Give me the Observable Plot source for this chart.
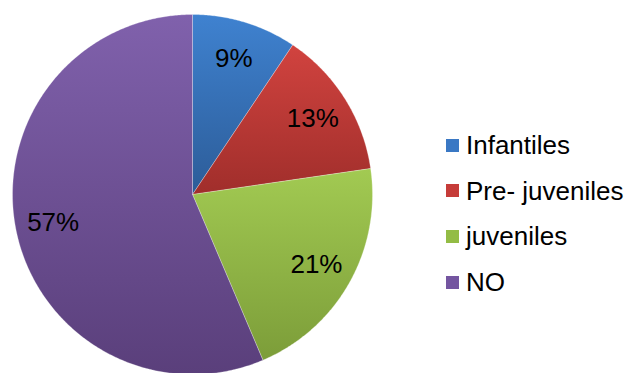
<!DOCTYPE html>
<html>
<head>
<meta charset="utf-8">
<script src="https://cdn.jsdelivr.net/npm/d3@7"></script>
<script src="https://cdn.jsdelivr.net/npm/@observablehq/plot@0.6"></script>
<style>
  html, body { margin: 0; padding: 0; background: #ffffff; }
  #wrap { position: relative; width: 631px; height: 373px; overflow: hidden; font-family: "Liberation Sans", Arial, sans-serif; }
  #legend { position: absolute; left: 0; top: 0; }
  .row { position: absolute; display: flex; align-items: center; height: 30px; line-height: 30px; font-size: 26px; color: #000; white-space: nowrap; }
  .sw { width: 13px; height: 13px; margin-right: 7px; }
</style>
</head>
<body>
<div id="wrap"><div id="legend"></div></div>
<script>
// Data
const categories = ["Infantiles", "Pre- juveniles", "juveniles", "NO"];
const values = [9.4, 13.3, 20.9, 56.4];
const labels = ["9%", "13%", "21%", "57%"];

// Styles
const topColors = ["#3F82D0", "#D1433F", "#A2CA52", "#8061AC"];
const bottomColors = ["#2C5C98", "#A02E2B", "#7C9D39", "#5A3F7B"];
const legendColors = ["#3A78C4", "#C63C39", "#93BC45", "#7455A0"];

const pie = d3.pie().sort(null).value(d => d)(values);

const slices = pie.map((p, i) => {
  const pts = [{x: 0, y: 0}];
  const n = Math.max(2, Math.ceil((p.endAngle - p.startAngle) / (Math.PI / 360)));
  for (let k = 0; k <= n; k++) {
    const a = p.startAngle + (p.endAngle - p.startAngle) * k / n;
    pts.push({x: Math.sin(a), y: Math.cos(a)});
  }
  pts.push({x: 0, y: 0});
  return pts;
});

const labelData = pie.map((p, i) => {
  const a = (p.startAngle + p.endAngle) / 2;
  return {x: 0.79 * Math.sin(a), y: 0.79 * Math.cos(a), label: labels[i]};
});

const plot = Plot.plot({
  width: 631,
  height: 373,
  margin: 0,
  x: {domain: [-1, 1], range: [12, 372], axis: null},
  y: {domain: [-1, 1], range: [374, 14], axis: null},
  style: {background: "transparent", fontFamily: "'Liberation Sans', Arial, sans-serif"},
  marks: [
    ...slices.map((pts, i) => Plot.line(pts, {
      x: "x", y: "y", curve: "linear",
      fill: `url(#grad${i})`,
      stroke: "#ffffff", strokeOpacity: 0.35, strokeWidth: 0.8
    })),
    Plot.text(labelData, {
      x: "x", y: "y", text: "label",
      fontSize: 26, fill: "#000000", textAnchor: "middle", lineAnchor: "middle"
    })
  ]
});

const defs = `<defs>${topColors.map((c, i) =>
  `<linearGradient id="grad${i}" x1="0" y1="0" x2="0" y2="1">
     <stop offset="0" stop-color="${c}"/>
     <stop offset="1" stop-color="${bottomColors[i]}"/>
   </linearGradient>`).join("")}</defs>`;
plot.insertAdjacentHTML("afterbegin", defs);

const wrap = document.getElementById("wrap");
wrap.insertBefore(plot, wrap.firstChild);

const legend = document.getElementById("legend");
categories.forEach((c, i) => {
  const row = document.createElement("div");
  row.className = "row";
  row.style.left = "446px";
  row.style.top = (145 + i * 45.7 - 15) + "px";
  const sw = document.createElement("span");
  sw.className = "sw";
  sw.style.background = legendColors[i];
  const t = document.createElement("span");
  t.textContent = c;
  row.appendChild(sw);
  row.appendChild(t);
  legend.appendChild(row);
});
</script>
</body>
</html>
